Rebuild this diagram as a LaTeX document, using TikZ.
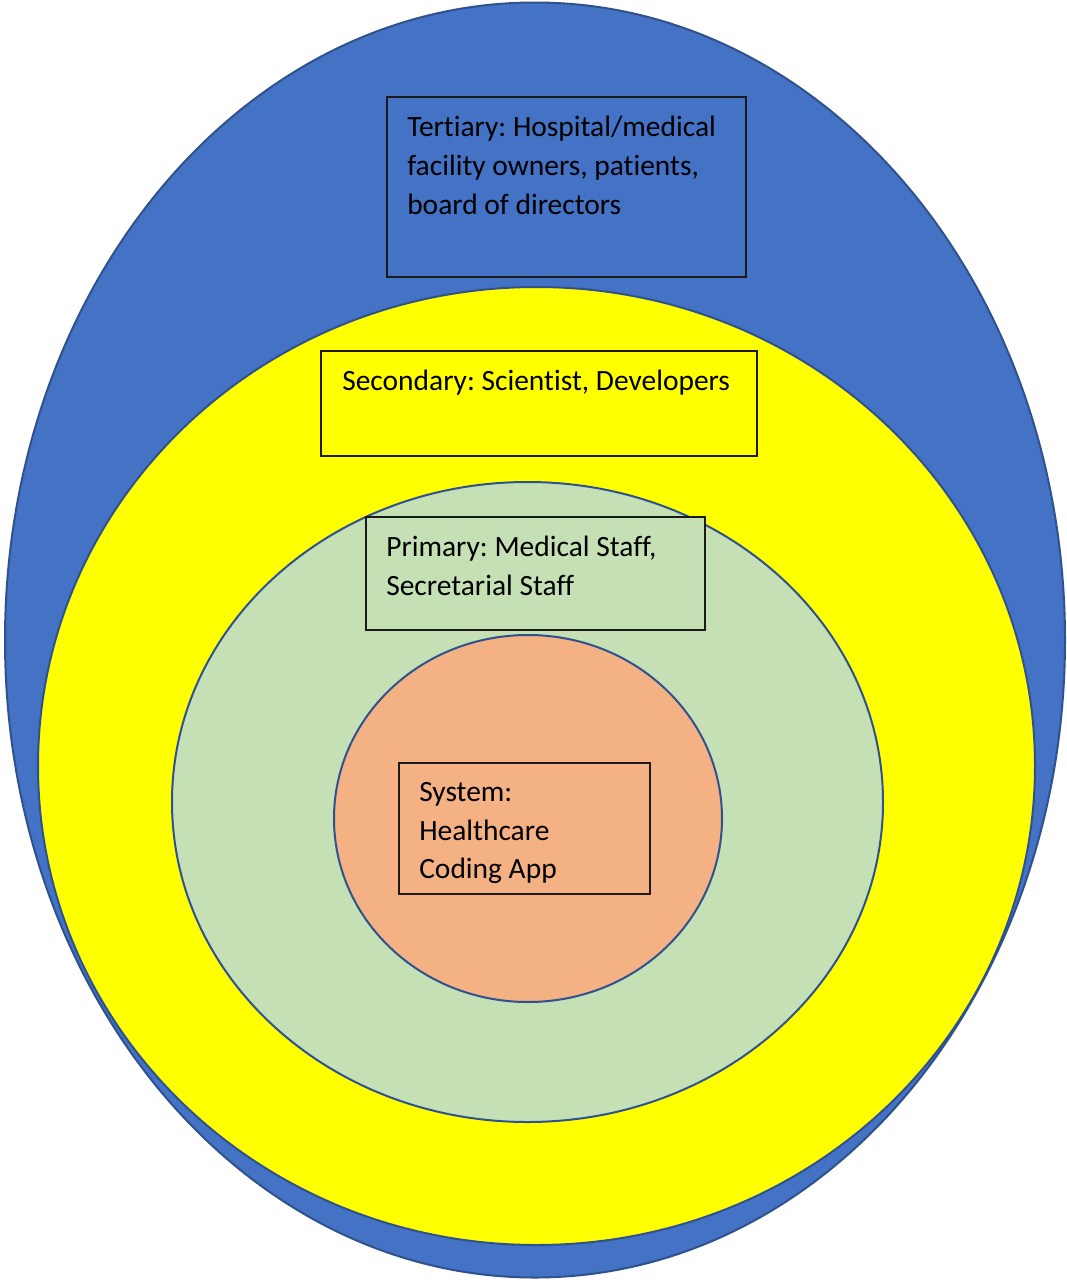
\documentclass[tikz,border=0pt]{standalone}
\usepackage{fontspec}
\setmainfont{Carlito}[Ligatures={NoCommon}]
\usetikzlibrary{shapes.geometric}
\definecolor{ringblue}{HTML}{4472C4}
\definecolor{ringline}{HTML}{2F528F}
\definecolor{ringyellow}{HTML}{FFFF00}
\definecolor{ringgreen}{HTML}{C5E0B4}
\definecolor{ringorange}{HTML}{F4B183}
\definecolor{boxline}{HTML}{1A1A1A}
\frenchspacing
\tikzset{
  ring/.style={ellipse, draw=ringline, line width=1.5pt, inner sep=0pt, outer sep=0pt},
  labelbox/.style={rectangle, draw=boxline, line width=0.9pt, anchor=north west, inner sep=0pt, outer sep=0pt},
  labeltext/.style={anchor=north west, inner sep=0pt, align=left, text=black,
    font=\fontsize{22.1pt}{29pt}\selectfont\frenchspacing}
}
\begin{document}
\begin{tikzpicture}[x=0.75pt,y=-0.75pt]
\useasboundingbox (0,0) rectangle (1067,1282);
\fill[white] (0,0) rectangle (1067,1282);
\node[ring, fill=ringblue, minimum width=795pt, minimum height=956.25pt] (tertiaryring) at (535,640) {};
\node[ring, fill=ringyellow, minimum width=747.75pt, minimum height=718.5pt] (secondaryring) at (536.5,766) {};
\node[ring, fill=ringgreen, minimum width=533.25pt, minimum height=480pt] (primaryring) at (527.5,802) {};
\node[ring, fill=ringorange, minimum width=291pt, minimum height=275.25pt] (systemring) at (528,818.5) {};
\node[labelbox, fill=ringblue, minimum width=269.25pt, minimum height=135pt] (tertiarybox) at (387,97) {};
\node[labelbox, fill=ringyellow, minimum width=327pt, minimum height=78.75pt] (secondarybox) at (321,351) {};
\node[labelbox, fill=ringgreen, minimum width=254.25pt, minimum height=84.75pt] (primarybox) at (366,517) {};
\node[labelbox, fill=ringorange, minimum width=188.25pt, minimum height=98.25pt] (systembox) at (399,763) {};
\node[labeltext] (tertiarytext) at (407,116) {Tertiary: Hospital/medical\\facility owners, patients,\\board of directors};
\node[labeltext] (secondarytext) at (342,370) {Secondary: Scientist, Developers};
\node[labeltext] (primarytext) at (386,536) {Primary: Medical Staff,\\Secretarial Staff};
\node[labeltext] (systemtext) at (419,782) {System:\\Healthcare\\Coding App};
\end{tikzpicture}
\end{document}
